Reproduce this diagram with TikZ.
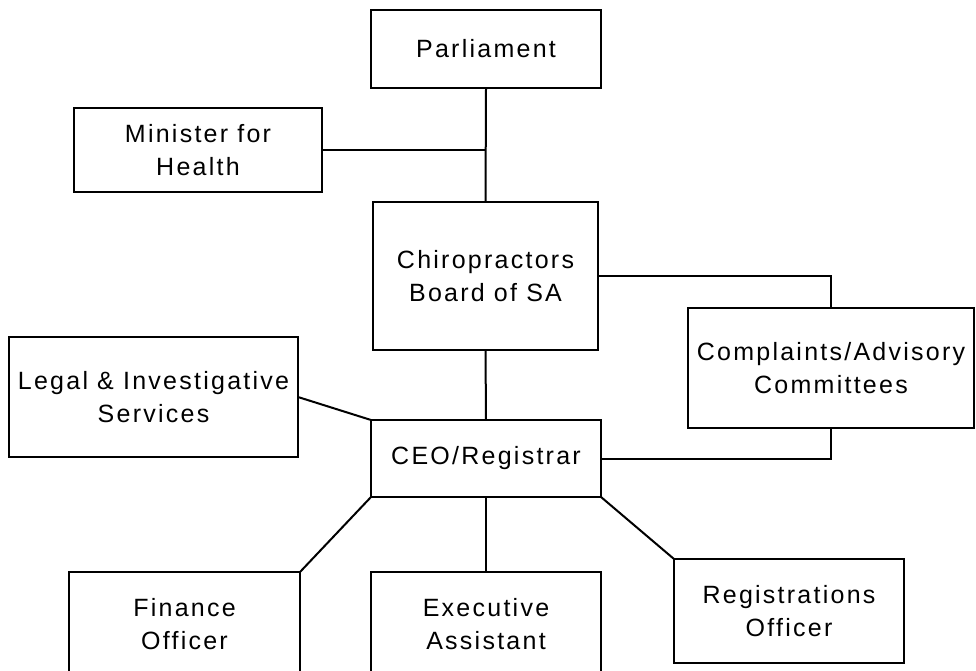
\documentclass[tikz,border=0pt]{standalone}
\usepackage{fontspec}
\setmainfont{Liberation Sans}[LetterSpace=9]
\begin{document}
\begin{tikzpicture}[x=1pt,y=-1pt,
    unit/.style={draw, line width=2pt, outer sep=0pt, inner sep=0pt,
      align=center, font=\fontsize{25}{33}\selectfont}]
  \useasboundingbox (0,0) rectangle (976,671);
  \clip (0,0) rectangle (976,671);
  \draw
    (486,49) node[unit, minimum width=230, minimum height=78] (parl){Parliament}
    (198,150) node[unit, minimum width=248, minimum height=83] (min){Minister for\\Health}
    (485.5,276) node[unit, minimum width=225, minimum height=148] (board){Chiropractors\\Board of SA}
    (831,368) node[unit, minimum width=286, minimum height=120] (comp){Complaints/Advisory\\Committees}
    (153.5,397) node[unit, minimum width=289, minimum height=120] (legal){Legal \& Investigative\\Services}
    (486,458.5) node[unit, minimum width=230, minimum height=77] (ceo){CEO/Registrar}
    (184.5,624.5) node[unit, minimum width=231, minimum height=105] (fin){Finance\\Officer}
    (486,624.5) node[unit, minimum width=230, minimum height=105] (exec){Executive\\Assistant}
    (789,611) node[unit, minimum width=230, minimum height=104] (reg){Registrations\\Officer};
  \begin{scope}[-, line width=2pt]
    \draw (parl.south) to (board.north);
    \draw (min.east) to (min.east -| board.north);
    \draw (board.east) -| (comp.north);
    \draw (board.south) to (ceo.north);
    \draw (legal.east) to (ceo.north west);
    \draw (ceo.east) -| (comp.south);
    \draw (ceo.south west) to (fin.north east);
    \draw (ceo.south) to (exec.north);
    \draw (ceo.south east) to (reg.north west);
  \end{scope}
\end{tikzpicture}
\end{document}
